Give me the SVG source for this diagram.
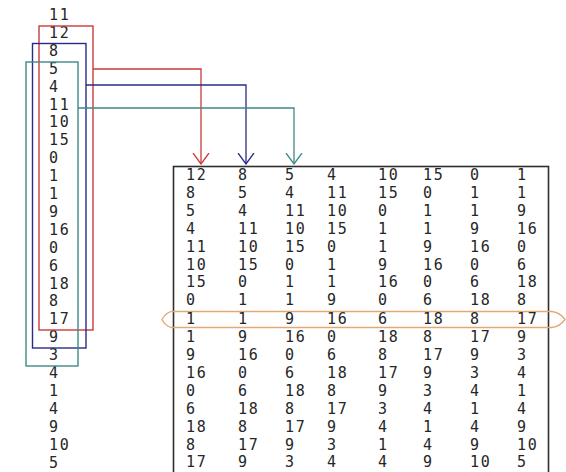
<svg xmlns="http://www.w3.org/2000/svg" width="566" height="472" viewBox="0 0 566 472">
  <style>
    .num { font-family: "DejaVu Sans Mono", "Liberation Mono", monospace; font-size: 15px; fill: #262626; letter-spacing: 1.6px; }
    .box { fill: none; stroke-width: 1.4; }
    .red { stroke: #cc3a3a; }
    .blue { stroke: #2b2b86; }
    .teal { stroke: #3d8a88; }
    .link { fill: none; stroke-width: 1.3; }
  </style>
  <defs>
    <marker id="vRed" viewBox="0 0 12 18" refX="11" refY="9" markerWidth="12" markerHeight="18" markerUnits="userSpaceOnUse" orient="auto">
      <path d="M0,1 L11,9 L0,17" fill="none" stroke="#cc3a3a" stroke-width="1.3"/>
    </marker>
    <marker id="vBlue" viewBox="0 0 12 18" refX="11" refY="9" markerWidth="12" markerHeight="18" markerUnits="userSpaceOnUse" orient="auto">
      <path d="M0,1 L11,9 L0,17" fill="none" stroke="#2b2b86" stroke-width="1.3"/>
    </marker>
    <marker id="vTeal" viewBox="0 0 12 18" refX="11" refY="9" markerWidth="12" markerHeight="18" markerUnits="userSpaceOnUse" orient="auto">
      <path d="M0,1 L11,9 L0,17" fill="none" stroke="#3d8a88" stroke-width="1.3"/>
    </marker>
  </defs>
  <rect width="566" height="472" fill="#ffffff"/>

  <!-- input sequence -->
  <g id="sequence" class="num">
    <text x="49" y="20">11</text>
    <text x="49" y="37.9">12</text>
    <text x="49" y="55.8">8</text>
    <text x="49" y="73.7">5</text>
    <text x="49" y="91.6">4</text>
    <text x="49" y="109.5">11</text>
    <text x="49" y="127.4">10</text>
    <text x="49" y="145.3">15</text>
    <text x="49" y="163.2">0</text>
    <text x="49" y="181.1">1</text>
    <text x="49" y="199">1</text>
    <text x="49" y="216.9">9</text>
    <text x="49" y="234.8">16</text>
    <text x="49" y="252.7">0</text>
    <text x="49" y="270.6">6</text>
    <text x="49" y="288.5">18</text>
    <text x="49" y="306.4">8</text>
    <text x="49" y="324.3">17</text>
    <text x="49" y="342.2">9</text>
    <text x="49" y="360.1">3</text>
    <text x="49" y="378">4</text>
    <text x="49" y="395.9">1</text>
    <text x="49" y="413.8">4</text>
    <text x="49" y="431.7">9</text>
    <text x="49" y="449.6">10</text>
    <text x="49" y="467.5">5</text>
  </g>

  <!-- windows over the sequence -->
  <g id="window-red"><rect class="box red" x="39" y="26" width="54" height="304"/></g>
  <g id="window-blue"><rect class="box blue" x="32.5" y="43.5" width="53.5" height="304.5"/></g>
  <g id="window-teal"><rect class="box teal" x="26" y="62" width="52" height="304"/></g>

  <!-- connectors from each window to its column -->
  <g id="connectors">
    <polyline class="link red" points="93,69 201,69 201,164" marker-end="url(#vRed)"/>
    <polyline class="link blue" points="86,85 246,85 246,164" marker-end="url(#vBlue)"/>
    <polyline class="link teal" points="78,108 294,108 294,164" marker-end="url(#vTeal)"/>
  </g>

  <!-- window matrix -->
  <g id="matrix">
    <rect x="173.5" y="166.5" width="375" height="320" fill="none" stroke="#2e2e2e" stroke-width="1.6"/>
    <path id="highlight" d="M171,311.5 L552,311.5 Q560,312.5 565,319.5 Q560,326.5 552,327.5 L171,327.5 Q165,325.5 162,319.5 Q165,313.5 171,311.5 Z" fill="none" stroke="#e2a877" stroke-width="1.3"/>
    <g class="num">
      <text y="180"><tspan x="186">12</tspan><tspan x="238">8</tspan><tspan x="285">5</tspan><tspan x="327">4</tspan><tspan x="378">10</tspan><tspan x="423">15</tspan><tspan x="470">0</tspan><tspan x="517">1</tspan></text>
      <text y="197.9"><tspan x="186">8</tspan><tspan x="238">5</tspan><tspan x="285">4</tspan><tspan x="327">11</tspan><tspan x="378">15</tspan><tspan x="423">0</tspan><tspan x="470">1</tspan><tspan x="517">1</tspan></text>
      <text y="215.8"><tspan x="186">5</tspan><tspan x="238">4</tspan><tspan x="285">11</tspan><tspan x="327">10</tspan><tspan x="378">0</tspan><tspan x="423">1</tspan><tspan x="470">1</tspan><tspan x="517">9</tspan></text>
      <text y="233.7"><tspan x="186">4</tspan><tspan x="238">11</tspan><tspan x="285">10</tspan><tspan x="327">15</tspan><tspan x="378">1</tspan><tspan x="423">1</tspan><tspan x="470">9</tspan><tspan x="517">16</tspan></text>
      <text y="251.6"><tspan x="186">11</tspan><tspan x="238">10</tspan><tspan x="285">15</tspan><tspan x="327">0</tspan><tspan x="378">1</tspan><tspan x="423">9</tspan><tspan x="470">16</tspan><tspan x="517">0</tspan></text>
      <text y="269.5"><tspan x="186">10</tspan><tspan x="238">15</tspan><tspan x="285">0</tspan><tspan x="327">1</tspan><tspan x="378">9</tspan><tspan x="423">16</tspan><tspan x="470">0</tspan><tspan x="517">6</tspan></text>
      <text y="287.4"><tspan x="186">15</tspan><tspan x="238">0</tspan><tspan x="285">1</tspan><tspan x="327">1</tspan><tspan x="378">16</tspan><tspan x="423">0</tspan><tspan x="470">6</tspan><tspan x="517">18</tspan></text>
      <text y="305.3"><tspan x="186">0</tspan><tspan x="238">1</tspan><tspan x="285">1</tspan><tspan x="327">9</tspan><tspan x="378">0</tspan><tspan x="423">6</tspan><tspan x="470">18</tspan><tspan x="517">8</tspan></text>
      <text y="324.2"><tspan x="186">1</tspan><tspan x="238">1</tspan><tspan x="285">9</tspan><tspan x="327">16</tspan><tspan x="378">6</tspan><tspan x="423">18</tspan><tspan x="470">8</tspan><tspan x="517">17</tspan></text>
      <text y="342.1"><tspan x="186">1</tspan><tspan x="238">9</tspan><tspan x="285">16</tspan><tspan x="327">0</tspan><tspan x="378">18</tspan><tspan x="423">8</tspan><tspan x="470">17</tspan><tspan x="517">9</tspan></text>
      <text y="360"><tspan x="186">9</tspan><tspan x="238">16</tspan><tspan x="285">0</tspan><tspan x="327">6</tspan><tspan x="378">8</tspan><tspan x="423">17</tspan><tspan x="470">9</tspan><tspan x="517">3</tspan></text>
      <text y="377.9"><tspan x="186">16</tspan><tspan x="238">0</tspan><tspan x="285">6</tspan><tspan x="327">18</tspan><tspan x="378">17</tspan><tspan x="423">9</tspan><tspan x="470">3</tspan><tspan x="517">4</tspan></text>
      <text y="395.8"><tspan x="186">0</tspan><tspan x="238">6</tspan><tspan x="285">18</tspan><tspan x="327">8</tspan><tspan x="378">9</tspan><tspan x="423">3</tspan><tspan x="470">4</tspan><tspan x="517">1</tspan></text>
      <text y="413.7"><tspan x="186">6</tspan><tspan x="238">18</tspan><tspan x="285">8</tspan><tspan x="327">17</tspan><tspan x="378">3</tspan><tspan x="423">4</tspan><tspan x="470">1</tspan><tspan x="517">4</tspan></text>
      <text y="431.6"><tspan x="186">18</tspan><tspan x="238">8</tspan><tspan x="285">17</tspan><tspan x="327">9</tspan><tspan x="378">4</tspan><tspan x="423">1</tspan><tspan x="470">4</tspan><tspan x="517">9</tspan></text>
      <text y="449.5"><tspan x="186">8</tspan><tspan x="238">17</tspan><tspan x="285">9</tspan><tspan x="327">3</tspan><tspan x="378">1</tspan><tspan x="423">4</tspan><tspan x="470">9</tspan><tspan x="517">10</tspan></text>
      <text y="467.4"><tspan x="186">17</tspan><tspan x="238">9</tspan><tspan x="285">3</tspan><tspan x="327">4</tspan><tspan x="378">4</tspan><tspan x="423">9</tspan><tspan x="470">10</tspan><tspan x="517">5</tspan></text>
    </g>
  </g>
</svg>
